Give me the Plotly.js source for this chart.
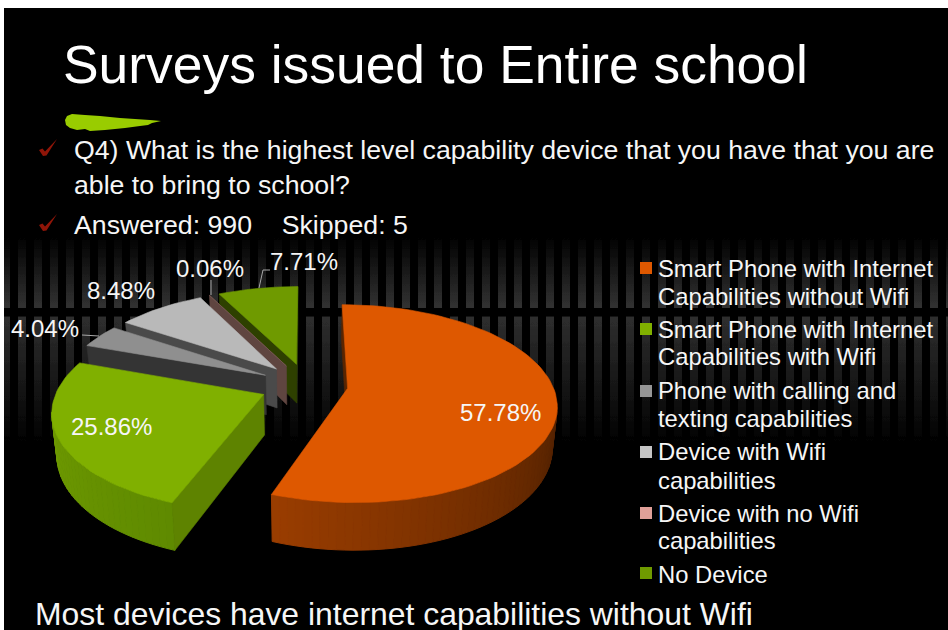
<!DOCTYPE html>
<html>
<head>
<meta charset="utf-8">
<script src="https://cdn.plot.ly/plotly-3.0.1.min.js"></script>
<style>html,body{margin:0;padding:0;background:#fff;overflow:hidden}#chart{width:948px;height:630px}</style>
</head>
<body>
<div id="chart"></div>
<script>
// Survey answers: share of respondents per device type
const categories = [
  'Smart Phone with Internet\nCapabilities without Wifi',
  'Smart Phone with Internet\nCapabilities with Wifi',
  'Phone with calling and\ntexting capabilities',
  'Device with Wifi\ncapabilities',
  'Device with no Wifi\ncapabilities',
  'No Device'
];
const shares = [57.78, 25.86, 4.04, 8.48, 0.06, 7.71];

const topColors   = ['#de5800', '#80b000', '#8f8f8f', '#b9b9b9', '#7a5a54', '#6f9a00'];
const keyColors   = ['#de5800', '#80b000', '#969696', '#c4c4c4', '#e0a098', '#6f9a00'];
const cutColors   = ['#5a2500', '#5e8300', '#343434', '#4a4a4a', '#5f4540', '#2e4000'];
const wallNear    = ['#9a3d00', '#5f8a00', '#333333', '#484848', '#5f4540', '#2e4000'];
const wallFar     = ['#4f2000', '#74a000', '#333333', '#484848', '#5f4540', '#2e4000'];
const explodeBy   = [0.2, 0.23, 0.23, 0.23, 0.23, 0.23];

// Perspective camera for the extruded pie
const cam = {vx: 307, yv: -236, k: 6.5, S: 205, A: 621, D: 40, shrink: 0.02};
const rad = d => d * Math.PI / 180;

function project(X, Y, low) {
  const w = cam.k / (cam.k + Y);
  return [cam.vx + cam.S * X * w * (1 - cam.shrink * low), cam.yv + (cam.A + cam.D * low) * w];
}
function mix(a, b, t) {
  const p = c => [1, 3, 5].map(i => parseInt(c.substr(i, 2), 16));
  const A = p(a), B = p(b);
  return 'rgb(' + A.map((v, i) => Math.round(v + (B[i] - v) * t)).join(',') + ')';
}
function poly(points, color, lineWidth) {
  return {
    type: 'scatter', mode: 'lines', x: points.map(p => p[0]), y: points.map(p => p[1]),
    fill: 'toself', fillcolor: color, line: {color: color, width: lineWidth},
    hoverinfo: 'skip', showlegend: false
  };
}

// Turn the shares into wedges; the total runs a little over 100, so normalise it
const total = shares.reduce((a, b) => a + b, 0);
let running = 0;
const wedges = shares.map((v, i) => {
  const start = running, end = running + v / total * 360;
  running = end;
  const mid = rad((start + end) / 2);
  return {i, start, end, ox: Math.sin(mid) * explodeBy[i], oy: Math.cos(mid) * explodeBy[i]};
});

function faces(w) {
  const out = [];
  const pt = (deg, r) => [w.ox + r * Math.sin(rad(deg)), w.oy + r * Math.cos(rad(deg))];
  const facing = (nx, ny, px, py) => nx * (0 - px) + ny * (-cam.k - py) > 0;
  // outer wall, one strip at a time so its shade can follow the curve
  const span = w.end - w.start;
  const steps = Math.max(1, Math.ceil(span / 2));
  for (let s = 0; s < steps; s++) {
    const a = w.start + span * s / steps, b = w.start + span * (s + 1) / steps, m = (a + b) / 2;
    const [px, py] = pt(m, 1);
    if (!facing(Math.sin(rad(m)), Math.cos(rad(m)), px, py)) continue;
    const t = w.i === 0 ? (200 - m) / 100 : (m - 200) / 80;
    const pa = pt(a, 1), pb = pt(b, 1);
    out.push(poly([project(pa[0], pa[1], 0), project(pb[0], pb[1], 0), project(pb[0], pb[1], 1), project(pa[0], pa[1], 1), project(pa[0], pa[1], 0)],
      mix(wallNear[w.i], wallFar[w.i], Math.min(1, Math.max(0, t))), 1));
  }
  // the two cut faces, when they look toward the camera
  [[w.start, -90], [w.end, 90]].forEach(([deg, turn]) => {
    const n = deg + turn;
    if (!facing(Math.sin(rad(n)), Math.cos(rad(n)), w.ox, w.oy)) return;
    const c = pt(deg, 1);
    out.push(poly([project(w.ox, w.oy, 0), project(c[0], c[1], 0), project(c[0], c[1], 1), project(w.ox, w.oy, 1), project(w.ox, w.oy, 0)], cutColors[w.i], 0.6));
  });
  // top surface
  const top = [project(w.ox, w.oy, 0)];
  const n = Math.max(2, Math.ceil(span / 2));
  for (let s = 0; s <= n; s++) {
    const p = pt(w.start + span * s / n, 1);
    top.push(project(p[0], p[1], 0));
  }
  top.push(project(w.ox, w.oy, 0));
  out.push(poly(top, topColors[w.i], 0.6));
  return out;
}

// Back wedges first, the nearer ones painted over them
const paintOrder = [5, 4, 3, 2, 1, 0];
const traces = [];
paintOrder.forEach(i => faces(wedges[i]).forEach(t => traces.push(t)));

// Legend swatches
const legendSwatchY = [268, 329, 391, 452, 513, 573];
traces.push({
  type: 'scatter', mode: 'markers', x: legendSwatchY.map(() => 646), y: legendSwatchY,
  marker: {symbol: 'square', size: 12, color: keyColors}, hoverinfo: 'skip', showlegend: false
});

// Leader lines for the small wedges
[[[82, 99], [335, 336]], [[211, 211], [280, 295]], [[270, 263, 259], [270, 270, 288]]].forEach(l => {
  traces.push({type: 'scatter', mode: 'lines', x: l[0], y: l[1], line: {color: '#a8a8a8', width: 1}, hoverinfo: 'skip', showlegend: false});
});

const FONT = '"Liberation Sans", Arial, sans-serif';
const text = (x, y, t, size, extra) => Object.assign({
  x, y, text: t, xref: 'x', yref: 'y', showarrow: false, xanchor: 'left', yanchor: 'middle',
  font: {family: FONT, size, color: '#f6f6f6'}
}, extra || {});

const annotations = [
  text(61, 64, 'Surveys issued to Entire school', 53.4, {font: {family: FONT, size: 53.4, color: '#fff'}}),
  text(72, 150, 'Q4) What is the highest level capability device that you have that you are', 26.7),
  text(72, 185, 'able to bring to school?', 26.7),
  text(72, 225, 'Answered: 990    Skipped: 5', 26.7),
  text(33, 614, 'Most devices have internet capabilities without Wifi', 31.9)
];

// Value labels on and around the wedges
const labelX = [500, 111, 45, 121, 210, 304];
const labelY = [412, 426, 328, 290, 268, 261];
shares.forEach((v, i) => annotations.push(text(labelX[i], labelY[i], v.toFixed(2) + '%', 24, {xanchor: 'center'})));

// Legend text, one annotation per line
const legendLineY = [[268, 296], [329, 356], [390, 418], [451, 480], [513, 540], [574]];
categories.forEach((c, i) => c.split('\n').forEach((line, j) => annotations.push(text(656, legendLineY[i][j], line, 23.8))));

// Striped backdrop behind the pie, fading out above and below a dark band
let bars = '';
for (let x = -2; x < 948; x += 16) {
  bars += `<rect x="${x}" y="227" width="8" height="73" fill="url(#u)"/><rect x="${x}" y="308.5" width="8" height="130" fill="url(#d)"/>`;
}
const backdrop = `<svg xmlns="http://www.w3.org/2000/svg" width="944" height="622" viewBox="0 0 944 622"><defs>` +
  `<filter id="soft"><feGaussianBlur stdDeviation="0.7"/></filter>` +
  `<linearGradient id="u" x1="0" y1="0" x2="0" y2="1"><stop offset="0" stop-color="#323232" stop-opacity="0"/><stop offset="1" stop-color="#323232"/></linearGradient>` +
  `<linearGradient id="d" x1="0" y1="0" x2="0" y2="1"><stop offset="0" stop-color="#2e2e2e"/><stop offset="1" stop-color="#2e2e2e" stop-opacity="0"/></linearGradient>` +
  `</defs><g filter="url(#soft)">${bars}</g></svg>`;

const tick = dy => `M39,${150 + dy} L42.5,${148.5 + dy} L45,${151.5 + dy} L57,${139 + dy} L46.5,${155.5 + dy} L43,${156 + dy} Z`;
const shapes = [
  // green brush stroke under the heading
  {type: 'path', xref: 'x', yref: 'y', fillcolor: '#99cc00', line: {width: 0},
   path: 'M65,120 L67,116 L72,114 L85,115 L100,116 L120,118 L135,119 L150,120 L161,121 L152,123 L148,125 L140,126 L125,128 L105,130 L90,131 L85,129 L77,130 L70,128 L66,125 Z'},
  {type: 'path', xref: 'x', yref: 'y', fillcolor: '#8f1508', line: {width: 0}, path: tick(0)},
  {type: 'path', xref: 'x', yref: 'y', fillcolor: '#8f1508', line: {width: 0}, path: tick(75)}
];

const hidden = {visible: false, fixedrange: true};
Plotly.newPlot('chart', traces, {
  width: 948, height: 630,
  margin: {l: 4, r: 0, t: 8, b: 0, pad: 0},
  paper_bgcolor: '#fff', plot_bgcolor: '#000',
  showlegend: false,
  xaxis: Object.assign({range: [4, 948]}, hidden),
  yaxis: Object.assign({range: [630, 8]}, hidden),
  images: [{source: 'data:image/svg+xml;charset=utf-8,' + encodeURIComponent(backdrop),
    xref: 'x', yref: 'y', x: 4, y: 8, sizex: 944, sizey: 622, xanchor: 'left', yanchor: 'top', sizing: 'stretch', layer: 'below'}],
  shapes, annotations
}, {staticPlot: true, displayModeBar: false});
</script>
</body>
</html>
